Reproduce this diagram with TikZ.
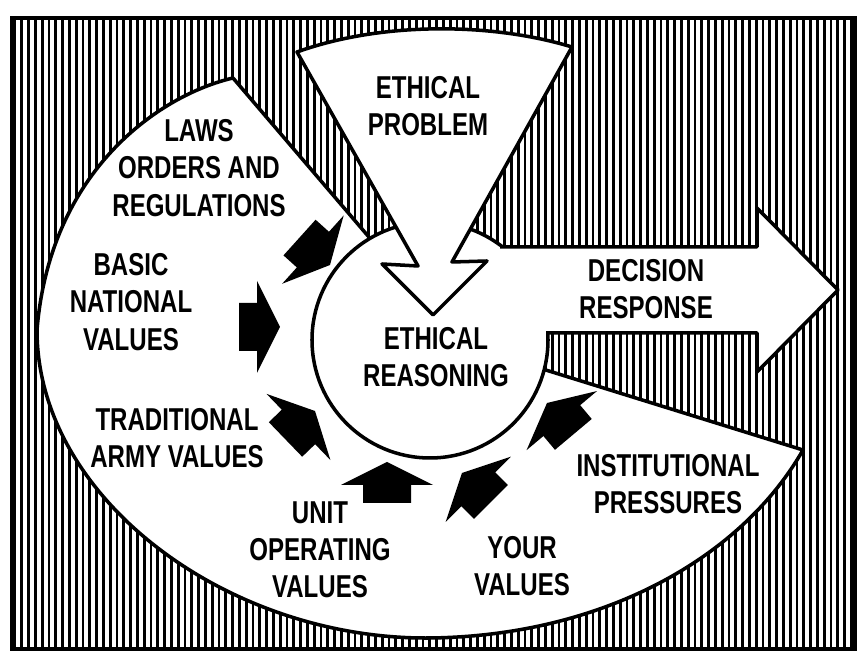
\documentclass[tikz,border=0pt]{standalone}
\usepackage{fontspec}
\newfontfamily\labelfont{Liberation Sans}[FakeStretch=0.76]
\begin{document}
\begin{tikzpicture}[x=0.025cm, y=0.025cm,
% common options for the labels:
lbl/.style = {align=center, inner sep=0,
            font=\labelfont\bfseries\fontsize{22.5}{26.5}\selectfont},
% common options for the white areas and their outlines:
field/.style = {fill=white},
edge/.style = {line width=2.5pt, line join=round},
% the small black arrows:
push/.style = {fill=black}]
\useasboundingbox (0,0) rectangle (858,655);
% hatching and frame
\foreach \x in {15,21.8,...,852}
  \draw[line width=2.1pt] (\x,7) -- (\x,637);
\draw[line width=2.6pt] (12,6) rectangle (855,637);
% big white field round the circle
\fill[field] (233,577) -- (380,405) -- (430,315) -- (520,293) -- (803,205)
  .. controls (740,95) and (600,19) .. (430,17)
  .. controls (230,15) and (37,155) .. (37,325)
  .. controls (50,485) and (160,560) .. (233,577) -- cycle;
\draw[edge] (380,405) -- (233,577)
  .. controls (160,560) and (50,485) .. (37,325)
  .. controls (37,155) and (230,15) .. (430,17)
  .. controls (600,19) and (740,95) .. (803,205) -- (520,293);
% circle
\draw[edge, fill=white] (430,315) circle (118);
% decision arrow
\fill[field] (480,408) -- (757,408) -- (757,447) -- (838,365) -- (757,283)
  -- (757,322) -- (480,322) -- cycle;
\draw[edge] (500,408) -- (757,408) -- (757,447) -- (838,365) -- (757,283)
  -- (757,322) -- (546,322);
% problem wedge
\draw[edge, fill=white] (297,603) .. controls (380,633) and (490,633) .. (572,608)
  -- (452,393) -- (487,394) -- (433,340) -- (382,391) -- (418,389) -- cycle;
% small arrows
\foreach \tx/\ty/\ang in {330/390/-42, 280/328/0, 315/244/44, 387/193/90,
                          462/182/135, 547/252/130}
  \fill[push, shift={(\tx,\ty)}, rotate=\ang] (0,0) -- (-23,46) -- (-23,24)
    -- (-41,24) -- (-41,-24) -- (-23,-24) -- (-23,-46) -- cycle;
% labels
\node[lbl] (problem) at (428,549) {ETHICAL\\PROBLEM};
\node[lbl] (laws) at (199,487) {LAWS\\ORDERS AND\\REGULATIONS};
\node[lbl] (basic) at (131,353) {BASIC\\NATIONAL\\VALUES};
\node[lbl] (army) at (177,217) {TRADITIONAL\\ARMY VALUES};
\node[lbl] (unit) at (320,105) {UNIT\\OPERATING\\VALUES};
\node[lbl] (your) at (522,89) {YOUR\\VALUES};
\node[lbl] (inst) at (668,171) {INSTITUTIONAL\\PRESSURES};
\node[lbl] (decision) at (646,366) {DECISION\\RESPONSE};
\node[lbl] (reason) at (436,298) {ETHICAL\\REASONING};
\end{tikzpicture}
\end{document}
